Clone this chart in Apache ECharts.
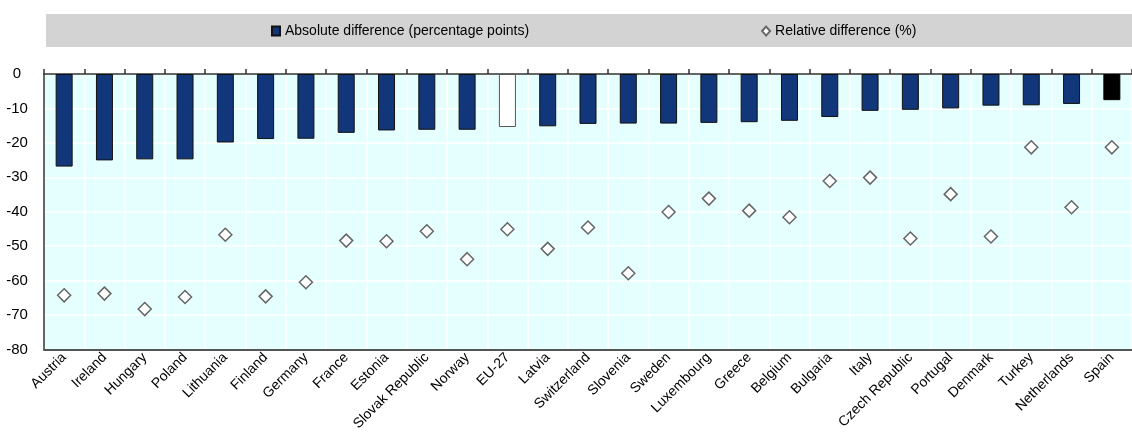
<!DOCTYPE html>
<html style="height: 100%">
    <head>
        <title>Absolute and relative difference</title>
        <script type="text/javascript" src="https://fastly.jsdelivr.net/npm/echarts@6.0.0/dist/echarts.min.js"></script>
    </head>
    <body style="height: 100%; margin: 0; background: #fff">
        <div id="target" style="width: 1132px; height: 437px"></div>

<script type="text/javascript">
// data
let countries = ["Austria", "Ireland", "Hungary", "Poland", "Lithuania", "Finland", "Germany", "France",
    "Estonia", "Slovak Republic", "Norway", "EU-27", "Latvia", "Switzerland", "Slovenia", "Sweden",
    "Luxembourg", "Greece", "Belgium", "Bulgaria", "Italy", "Czech Republic", "Portugal", "Denmark",
    "Turkey", "Netherlands", "Spain"];

let absoluteDiff = [-26.9, -25.1, -24.8, -24.8, -19.9, -18.9, -18.8, -17.1,
    -16.4, -16.2, -16.2, -15.4, -15.2, -14.5, -14.4, -14.4,
    -14.2, -14.0, -13.6, -12.5, -10.7, -10.4, -10.0, -9.2,
    -9.1, -8.7, -7.6];

let relativeDiff = [-64.3, -63.8, -68.3, -64.8, -46.7, -64.6, -60.5, -48.4,
    -48.6, -45.7, -53.8, -45.1, -50.8, -44.6, -57.9, -40.1,
    -36.2, -39.7, -41.6, -31.1, -30.1, -47.8, -34.9, -47.2,
    -21.3, -38.7, -21.3];

let seriesNames = ["Absolute difference (percentage points)", "Relative difference (%)"];

let chart = echarts.init(document.getElementById('target'));

let FONT = "'Liberation Sans Narrow', 'Arial Narrow', 'Liberation Sans', sans-serif";
let BLUE = "#12367a";

// highlight the EU average and Spain
let barData = absoluteDiff.map((v, i) => {
    let name = countries[i];
    if (name == "EU-27")
    {
        return { value: v, itemStyle: { color: "#ffffff", borderColor: "#555555" } };
    }
    if (name == "Spain")
    {
        return { value: v, itemStyle: { color: "#000000", borderColor: "#000000" } };
    }
    return v;
});

let option = {
    animation: false,
    textStyle: { fontFamily: FONT },
    graphic: [
        {
            type: "rect",
            z: -10,
            shape: { x: 46, y: 14, width: 1086, height: 33 },
            style: { fill: "#d3d3d3" },
        },
    ],
    legend: {
        top: 14,
        left: 266,
        itemGap: 232,
        itemWidth: 8,
        itemHeight: 9,
        textStyle: { fontFamily: FONT, fontSize: 14, color: "#000" },
        data: [
            { name: seriesNames[0], icon: "rect" },
            { name: seriesNames[1], icon: "diamond" },
        ],
    },
    grid: {
        left: 44,
        top: 74,
        width: 1098,
        height: 277,
        show: true,
        backgroundColor: "#e5ffff",
        borderWidth: 0,
    },
    xAxis: [
        {
            type: "category",
            data: countries,
            position: "bottom",
            axisLine: { onZero: false, lineStyle: { color: "#555", width: 2 } },
            axisTick: { show: false },
            splitLine: { show: true, interval: 0, lineStyle: { color: "#ffffff", width: 1.5 } },
            axisLabel: {
                interval: 0,
                rotate: 45,
                margin: 6,
                fontFamily: FONT,
                fontSize: 14,
                color: "#000",
            },
        },
        {
            type: "category",
            data: countries,
            position: "top",
            axisLine: { onZero: false, lineStyle: { color: "#333", width: 1.5 } },
            axisTick: { show: true, interval: 0, length: 5, lineStyle: { color: "#333", width: 1.5 } },
            axisLabel: { show: false, interval: 0 },
            splitLine: { show: false },
        },
    ],
    yAxis: {
        type: "value",
        min: -80,
        max: 0,
        interval: 10,
        axisLine: { show: true, lineStyle: { color: "#333", width: 1.5 } },
        axisTick: { show: false },
        splitLine: { show: true, lineStyle: { color: "#ffffff", width: 1.5 } },
        axisLabel: {
            align: "center",
            margin: 27,
            fontFamily: FONT,
            fontSize: 15,
            color: "#000",
        },
    },
    series: [
        {
            name: seriesNames[0],
            type: "bar",
            barWidth: 17,
            data: barData,
            itemStyle: { color: BLUE, borderColor: "#111", borderWidth: 1 },
        },
        {
            name: seriesNames[1],
            type: "scatter",
            symbol: "diamond",
            symbolSize: 13,
            data: relativeDiff,
            itemStyle: { color: "#ffffff", borderColor: "#666", borderWidth: 1.5, opacity: 1 },
            z: 5,
        },
    ],
};

chart.setOption(option);
</script>
    </body>
</html>
